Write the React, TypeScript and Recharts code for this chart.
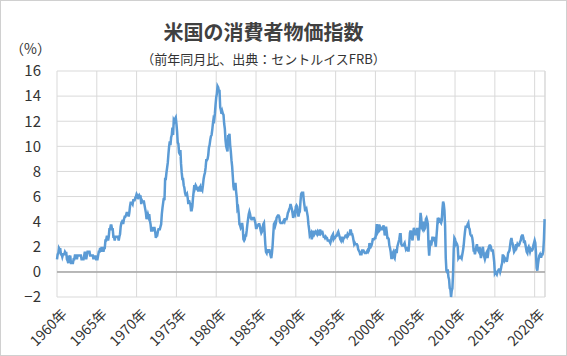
import { LineChart, Line, XAxis, YAxis, CartesianGrid, ReferenceLine } from "recharts";

// CPI year-over-year (%), monthly
const cpi1960s = [
  1.0, 1.4, 1.5, 1.9, 1.8, 1.8, 1.4, 1.4, 1.2, 1.4, 1.4, 1.4,
  1.6, 1.5, 1.5, 1.0, 0.9, 0.7, 1.3, 1.1, 1.3, 0.7, 0.7, 0.7,
  0.7, 1.0, 1.0, 1.3, 1.3, 1.3, 1.0, 1.3, 1.3, 1.3, 1.3, 1.3,
  1.3, 1.0, 1.0, 1.0, 1.0, 1.3, 1.6, 1.3, 1.0, 1.3, 1.6, 1.6,
  1.6, 1.6, 1.3, 1.3, 1.3, 1.3, 1.3, 1.0, 1.3, 1.0, 1.3, 1.0,
  1.0, 1.0, 1.3, 1.6, 1.6, 1.9, 1.6, 1.9, 1.9, 1.9, 1.6, 1.9,
  1.9, 2.5, 2.5, 2.8, 2.8, 2.5, 2.8, 3.4, 3.4, 3.7, 3.7, 3.4,
  3.4, 2.8, 2.8, 2.5, 2.8, 2.8, 2.8, 2.8, 2.8, 2.5, 2.8, 3.0,
  3.6, 3.9, 4.0, 3.9, 3.9, 4.2, 4.4, 4.4, 4.5, 4.7, 4.7, 4.7,
  4.4, 4.7, 5.2, 5.5, 5.5, 5.5, 5.4, 5.7, 5.7, 5.7, 5.9, 6.0,
];
const cpi1970s = [
  6.2, 6.1, 5.8, 6.0, 6.1, 6.0, 6.0, 5.4, 5.7, 5.6, 5.6, 5.6,
  5.3, 5.0, 4.7, 4.2, 4.4, 4.6, 4.4, 4.6, 4.1, 3.8, 3.3, 3.3,
  3.3, 3.5, 3.5, 3.5, 3.2, 2.7, 2.9, 2.9, 3.2, 3.4, 3.4, 3.4,
  3.6, 3.8, 4.6, 5.1, 5.5, 5.9, 5.7, 7.4, 7.4, 7.9, 8.3, 8.7,
  9.4, 10.0, 10.4, 10.1, 10.7, 10.9, 11.5, 10.9, 12.1, 12.0, 12.2, 12.3,
  11.8, 11.2, 10.3, 10.2, 9.5, 9.4, 9.7, 8.6, 7.9, 7.4, 7.4, 6.9,
  6.7, 6.3, 6.1, 6.1, 6.2, 5.9, 5.4, 5.7, 5.5, 5.4, 4.9, 4.9,
  5.2, 5.9, 6.4, 6.9, 6.7, 6.9, 6.8, 6.6, 6.6, 6.4, 6.7, 6.7,
  6.8, 6.4, 6.6, 6.5, 6.9, 7.4, 7.7, 7.9, 8.3, 8.9, 8.9, 9.0,
  9.3, 9.9, 10.1, 10.5, 10.8, 10.9, 11.3, 11.8, 12.2, 12.1, 12.6, 13.3,
];
const cpi1980s = [
  13.9, 14.2, 14.8, 14.7, 14.4, 14.4, 13.1, 12.9, 12.6, 12.8, 12.6, 12.5,
  11.8, 11.4, 10.5, 10.0, 9.8, 9.6, 10.8, 10.8, 11.0, 10.1, 9.6, 8.9,
  8.4, 7.6, 6.8, 6.5, 6.7, 7.1, 6.4, 5.9, 5.0, 5.1, 4.6, 3.8,
  3.7, 3.5, 3.6, 3.9, 3.5, 2.6, 2.5, 2.6, 2.9, 2.9, 3.3, 3.8,
  4.2, 4.6, 4.8, 4.6, 4.3, 4.2, 4.2, 4.3, 4.3, 4.3, 4.1, 3.9,
  3.5, 3.5, 3.7, 3.7, 3.8, 3.8, 3.6, 3.3, 3.1, 3.2, 3.5, 3.8,
  3.9, 3.1, 2.2, 1.6, 1.5, 1.8, 1.6, 1.6, 1.8, 1.5, 1.3, 1.1,
  1.5, 2.1, 3.0, 3.8, 3.9, 3.7, 3.9, 4.3, 4.4, 4.5, 4.5, 4.4,
  4.0, 3.9, 3.9, 3.9, 3.9, 4.0, 4.1, 4.0, 4.2, 4.2, 4.2, 4.4,
  4.7, 4.8, 5.0, 5.1, 5.4, 5.2, 5.0, 4.7, 4.3, 4.5, 4.7, 4.6,
];
const cpi1990s = [
  5.2, 5.3, 5.2, 4.7, 4.4, 4.7, 4.8, 5.6, 6.2, 6.3, 6.3, 6.3,
  5.7, 5.3, 4.9, 4.9, 5.0, 4.7, 4.4, 3.8, 3.4, 2.9, 3.0, 3.1,
  2.6, 2.8, 3.2, 3.2, 3.0, 3.1, 3.2, 3.1, 3.0, 3.2, 3.1, 2.9,
  3.3, 3.3, 3.1, 3.2, 3.2, 3.0, 2.8, 2.8, 2.7, 2.8, 2.7, 2.7,
  2.5, 2.5, 2.5, 2.4, 2.3, 2.5, 2.8, 2.9, 3.0, 2.6, 2.7, 2.7,
  2.8, 2.9, 2.9, 3.1, 3.2, 3.0, 2.8, 2.6, 2.5, 2.8, 2.6, 2.5,
  2.7, 2.7, 2.8, 2.9, 2.9, 2.8, 3.0, 2.9, 3.0, 3.0, 3.3, 3.3,
  3.0, 3.0, 2.8, 2.5, 2.2, 2.3, 2.2, 2.2, 2.2, 2.1, 1.8, 1.7,
  1.6, 1.4, 1.4, 1.4, 1.7, 1.7, 1.7, 1.6, 1.5, 1.5, 1.5, 1.6,
  1.7, 1.6, 1.7, 2.3, 2.1, 2.0, 2.1, 2.3, 2.6, 2.6, 2.6, 2.7,
];
const cpi2000s = [
  2.7, 3.2, 3.8, 3.1, 3.2, 3.7, 3.7, 3.4, 3.5, 3.4, 3.4, 3.4,
  3.7, 3.5, 2.9, 3.3, 3.6, 3.2, 2.7, 2.7, 2.6, 2.1, 1.9, 1.6,
  1.1, 1.1, 1.5, 1.6, 1.2, 1.1, 1.5, 1.8, 1.5, 2.0, 2.2, 2.4,
  2.6, 3.0, 3.0, 2.2, 2.1, 2.1, 2.1, 2.2, 2.3, 2.0, 1.8, 1.9,
  1.9, 1.7, 1.7, 2.3, 3.1, 3.3, 3.0, 2.7, 2.5, 3.2, 3.5, 3.3,
  3.0, 3.0, 3.1, 3.5, 2.8, 2.5, 3.2, 3.6, 4.7, 4.3, 3.5, 3.4,
  4.0, 3.6, 3.4, 3.5, 4.2, 4.3, 4.1, 3.8, 2.1, 1.3, 2.0, 2.5,
  2.1, 2.4, 2.8, 2.6, 2.7, 2.7, 2.4, 2.0, 2.8, 3.5, 4.3, 4.1,
  4.3, 4.0, 4.0, 3.9, 4.1, 5.0, 5.6, 5.4, 4.9, 3.7, 1.1, 0.1,
  0.0, 0.2, -0.4, -0.6, -1.3, -1.4, -2.0, -1.5, -1.3, -0.2, 1.8, 2.7,
];
const cpi2010s = [
  2.6, 2.2, 2.3, 2.2, 2.0, 1.1, 1.2, 1.1, 1.1, 1.2, 1.1, 1.4,
  1.7, 2.1, 2.7, 3.2, 3.6, 3.6, 3.6, 3.8, 3.9, 3.5, 3.4, 3.0,
  2.9, 2.9, 2.7, 2.3, 1.7, 1.7, 1.4, 1.7, 2.0, 2.2, 1.8, 1.7,
  1.6, 2.0, 1.5, 1.1, 1.4, 1.8, 2.0, 1.5, 1.2, 1.0, 1.2, 1.5,
  1.6, 1.1, 1.5, 2.0, 2.1, 2.1, 2.0, 1.7, 1.7, 1.7, 1.3, 0.8,
  -0.1, 0.0, -0.1, -0.2, 0.0, 0.1, 0.2, 0.2, 0.0, 0.2, 0.5, 0.7,
  1.4, 1.0, 0.9, 1.1, 1.0, 1.0, 0.8, 1.1, 1.5, 1.6, 1.7, 2.1,
  2.5, 2.7, 2.4, 2.2, 1.9, 1.6, 1.7, 1.9, 2.2, 2.0, 2.2, 2.1,
  2.1, 2.2, 2.4, 2.5, 2.8, 2.9, 2.9, 2.7, 2.3, 2.5, 2.2, 1.9,
  1.6, 1.5, 1.9, 2.0, 1.8, 1.6, 1.8, 1.7, 1.7, 1.8, 2.1, 2.3,
];
const cpi2020s = [
  2.5, 2.3, 1.5, 0.3, 0.1, 0.6, 1.0, 1.3, 1.4, 1.2, 1.2, 1.4,
  1.4, 1.7, 2.6, 4.2,
];

const yearTicks = [1960, 1965, 1970, 1975, 1980, 1985, 1990, 1995, 2000, 2005, 2010, 2015, 2020];
const valueTicks = [-2, 0, 2, 4, 6, 8, 10, 12, 14, 16];

const series = [cpi1960s, cpi1970s, cpi1980s, cpi1990s, cpi2000s, cpi2010s, cpi2020s];
const data = series.flatMap((arr, d) =>
  arr.map((v, i) => ({ t: 1960 + d * 10 + i / 12, cpi: v }))
);

const font = '"Noto Sans CJK JP", "Noto Sans", sans-serif';
const gridColor = "#d9d9d9";

export default function App() {
  return (
    <div
      style={{
        position: "absolute",
        left: 0,
        top: 0,
        width: 567,
        height: 356,
        boxSizing: "border-box",
        border: "1px solid #d0d0d0",
        background: "#fff",
        fontFamily: font,
        color: "#333",
      }}
    >
      <div style={{ position: "absolute", left: 0, width: 525, top: 19, textAlign: "center", fontSize: 20, lineHeight: "24px", fontWeight: 700, color: "#404040" }}>
        米国の消費者物価指数
      </div>
      <div style={{ position: "absolute", left: 0, width: 525, top: 50, textAlign: "center", fontSize: 13, lineHeight: "16px" }}>
        （前年同月比、出典：セントルイスFRB）
      </div>
      <div style={{ position: "absolute", left: 9, top: 39, fontSize: 14, lineHeight: "16px" }}>（%）</div>
      <LineChart
        width={567}
        height={356}
        data={data}
        margin={{ top: 71, right: 22, bottom: 0, left: 0 }}
        style={{ position: "absolute", left: -1, top: -1 }}
      >
        <CartesianGrid stroke={gridColor} strokeWidth={1} />
        <XAxis
          dataKey="t"
          type="number"
          domain={[1960, 2021.3]}
          ticks={yearTicks}
          tickFormatter={(v) => `${v}年`}
          angle={-45}
          textAnchor="end"
          height={59}
          axisLine={false}
          tickLine={false}
          tickMargin={5}
          tick={{ fill: "#333", fontSize: 14, fontFamily: font, dx: 4 }}
          interval={0}
        />
        <YAxis
          type="number"
          domain={[-2, 16]}
          ticks={valueTicks}
          width={57}
          axisLine={false}
          tickLine={false}
          tickMargin={10}
          tickFormatter={(v) => (v < 0 ? `−${Math.abs(v)}` : `${v}`)}
          tick={{ fill: "#333", fontSize: 15, fontFamily: font }}
          interval={0}
        />
        <ReferenceLine x={2021.3} stroke={gridColor} />
        <ReferenceLine y={0} stroke="#a6a6a6" strokeWidth={1.5} />
        <Line
          type="linear"
          dataKey="cpi"
          stroke="#5b9bd5"
          strokeWidth={2.5}
          dot={false}
          isAnimationActive={false}
        />
      </LineChart>
    </div>
  );
}
